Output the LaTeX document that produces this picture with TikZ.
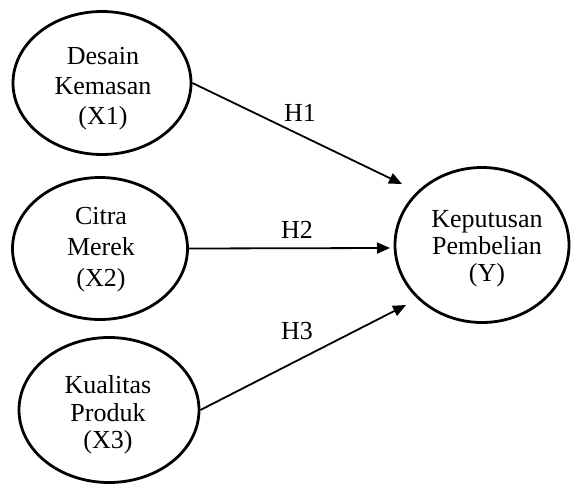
\documentclass[tikz,border=0pt]{standalone}
\usepackage{fontspec}
\setmainfont{Liberation Serif}
\usetikzlibrary{shapes.geometric,arrows.meta}
\tikzset{
  latent/.style={draw, ellipse, line width=2.8pt, inner sep=0pt},
  ltext/.style={align=center, inner sep=0pt},
  path/.style={line width=1.8pt, -{Triangle[length=13pt,width=11pt]}},
  hlabel/.style={font=\fontsize{26}{30}\selectfont}
}
\begin{document}
\begin{tikzpicture}[x=1pt,y=-1pt]
\useasboundingbox (0,0) rectangle (572,484);
\node[latent, minimum width=178pt, minimum height=143pt] (x1) at (102,83) {};
\node[ltext, font=\fontsize{26}{30}\selectfont] (x1t) at (103,89) {Desain\\Kemasan\\(X1)};
\node[latent, minimum width=175pt, minimum height=142pt] (x2) at (100,248.5) {};
\node[ltext, font=\fontsize{26}{31}\selectfont] (x2t) at (101,250) {Citra\\Merek\\(X2)};
\node[latent, minimum width=180pt, minimum height=145pt] (x3) at (109,410) {};
\node[ltext, font=\fontsize{26}{27.5}\selectfont] (x3t) at (108,415) {Kualitas\\Produk\\(X3)};
\node[latent, minimum width=174pt, minimum height=155pt] (y) at (482,245) {};
\node[ltext, font=\fontsize{26}{27}\selectfont] (yt) at (487,249) {Keputusan\\Pembelian\\(Y)};
\coordinate (t1) at (402,184);
\coordinate (t2) at (390,248);
\coordinate (t3) at (406,305);
\draw[path] (x1.east) -- (t1);
\draw[path] (x2.east) -- (t2);
\draw[path] (x3.east) -- (t3);
\node[hlabel] (h1) at (300,113) {H1};
\node[hlabel] (h2) at (297,230) {H2};
\node[hlabel] (h3) at (297,331) {H3};
\end{tikzpicture}
\end{document}
